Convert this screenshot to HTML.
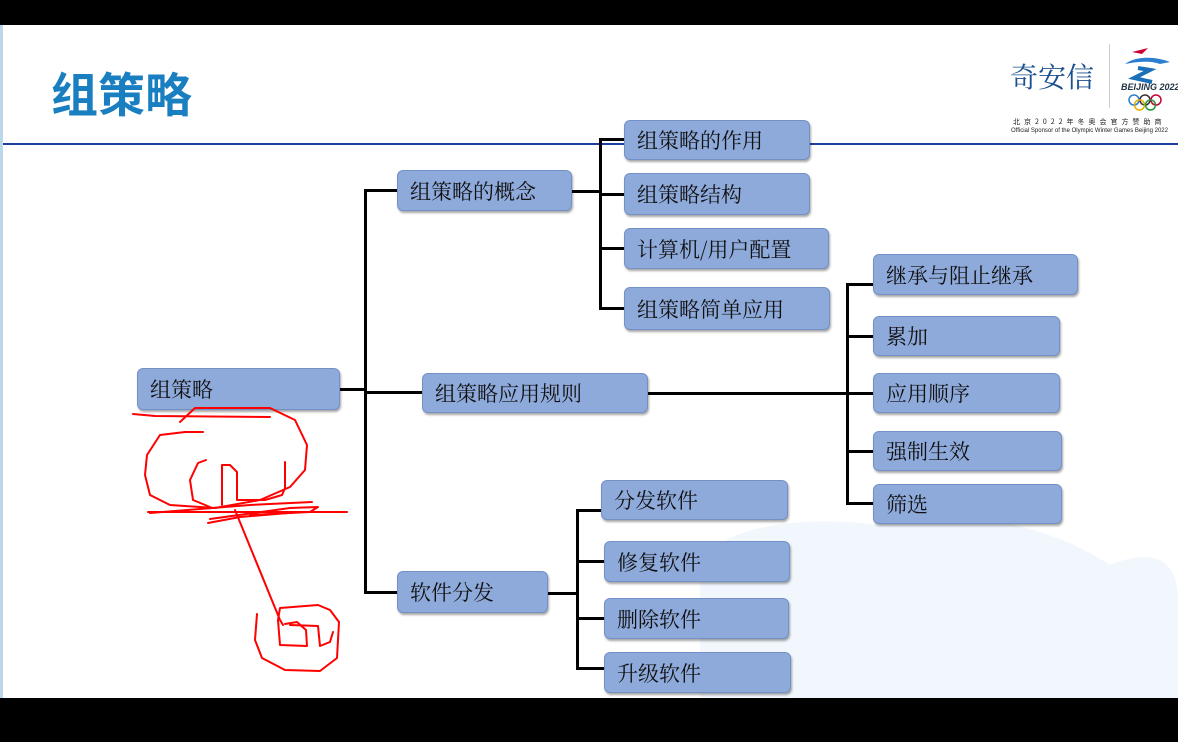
<!DOCTYPE html>
<html><head><meta charset="utf-8"><style>
html,body{margin:0;padding:0;}
body{width:1178px;height:742px;position:relative;overflow:hidden;background:#fff;font-family:"Liberation Sans","Noto Sans CJK SC",sans-serif;}
.bar{position:absolute;left:0;width:1178px;background:#000;}
.b{position:absolute;background:#8eaadb;border:1px solid #7391c6;border-radius:6px;box-shadow:1px 2px 2px rgba(0,0,0,0.35);box-sizing:border-box;font-size:21px;color:#111;padding-left:12px;display:flex;align-items:center;font-family:"Noto Serif CJK SC","Noto Sans CJK SC",serif;}
.l{position:absolute;background:#000;}
</style></head><body>
<div class="bar" style="top:0;height:25px"></div>
<div style="position:absolute;left:0;top:25px;width:3px;height:673px;background:#bcd6ea"></div>
<svg style="position:absolute;left:0;top:0" width="1178" height="742">
<path d="M700,560 C730,525 800,515 880,525 C960,505 1050,525 1110,565 C1160,545 1178,565 1178,600 L1178,698 L700,698 Z" fill="#eef5fc" opacity="0.8"/>
</svg>
<div style="position:absolute;left:51px;top:60px;font-size:47px;font-weight:bold;color:#1a7fc1;font-family:'Noto Sans CJK SC',sans-serif;line-height:64px">组策略</div>
<div style="position:absolute;left:3px;top:143px;width:1175px;height:2px;background:#1c3f9c"></div>
<div style="position:absolute;left:1010px;top:56px;font-size:28px;color:#1b4f8f;font-family:'Noto Serif CJK SC',serif">奇安信</div>
<div style="position:absolute;left:1109px;top:44px;width:1px;height:64px;background:#ccc"></div>
<svg style="position:absolute;left:1120px;top:42px" width="58" height="70">
<path d="M12,10 L28,6 L22,12Z" fill="#c03"/><path d="M5,22 C15,14 35,14 50,20 L40,22 C30,18 15,20 5,22Z" fill="#2a7fd0"/>
<path d="M18,26 L30,28 L14,36 L32,40" stroke="#1a6fb8" stroke-width="4" fill="none"/>
<text x="1" y="48" font-size="9" font-style="italic" font-weight="bold" fill="#234">BEIJING 2022</text>
<circle cx="14" cy="58" r="5" fill="none" stroke="#2a7fd0" stroke-width="1.5"/><circle cx="25" cy="58" r="5" fill="none" stroke="#333" stroke-width="1.5"/><circle cx="36" cy="58" r="5" fill="none" stroke="#c03" stroke-width="1.5"/><circle cx="19.5" cy="63" r="5" fill="none" stroke="#e8b000" stroke-width="1.5"/><circle cx="30.5" cy="63" r="5" fill="none" stroke="#2a9a40" stroke-width="1.5"/>
</svg>
<div style="position:absolute;left:1013px;top:117px;font-size:7px;letter-spacing:4px;color:#222;font-family:'Noto Sans CJK SC',sans-serif;white-space:nowrap">北京2022年冬奥会官方赞助商</div>
<div style="position:absolute;left:1011px;top:128px;font-size:6px;color:#222;white-space:nowrap">Official Sponsor of the Olympic Winter Games Beijing 2022</div>

<div class="l" style="left:340px;top:388px;width:26px;height:3px"></div>
<div class="l" style="left:364px;top:189px;width:3px;height:405px"></div>
<div class="l" style="left:364px;top:189px;width:33px;height:3px"></div>
<div class="l" style="left:364px;top:391px;width:58px;height:3px"></div>
<div class="l" style="left:364px;top:591px;width:33px;height:3px"></div>
<div class="l" style="left:572px;top:190px;width:29px;height:3px"></div>
<div class="l" style="left:599px;top:138px;width:3px;height:172px"></div>
<div class="l" style="left:599px;top:138px;width:25px;height:3px"></div>
<div class="l" style="left:599px;top:193px;width:25px;height:3px"></div>
<div class="l" style="left:599px;top:247px;width:25px;height:3px"></div>
<div class="l" style="left:599px;top:307px;width:25px;height:3px"></div>
<div class="l" style="left:648px;top:392px;width:201px;height:3px"></div>
<div class="l" style="left:846px;top:283px;width:3px;height:222px"></div>
<div class="l" style="left:846px;top:283px;width:27px;height:3px"></div>
<div class="l" style="left:846px;top:335px;width:27px;height:3px"></div>
<div class="l" style="left:846px;top:392px;width:27px;height:3px"></div>
<div class="l" style="left:846px;top:450px;width:27px;height:3px"></div>
<div class="l" style="left:846px;top:502px;width:27px;height:3px"></div>
<div class="l" style="left:548px;top:592px;width:30px;height:3px"></div>
<div class="l" style="left:576px;top:509px;width:3px;height:161px"></div>
<div class="l" style="left:576px;top:509px;width:25px;height:3px"></div>
<div class="l" style="left:576px;top:560px;width:28px;height:3px"></div>
<div class="l" style="left:576px;top:617px;width:28px;height:3px"></div>
<div class="l" style="left:576px;top:667px;width:28px;height:3px"></div>

<div class="b" style="left:137px;top:368px;width:203px;height:42px">组策略</div>
<div class="b" style="left:397px;top:170px;width:175px;height:41px">组策略的概念</div>
<div class="b" style="left:624px;top:120px;width:186px;height:40px">组策略的作用</div>
<div class="b" style="left:624px;top:173px;width:186px;height:42px">组策略结构</div>
<div class="b" style="left:624px;top:228px;width:205px;height:41px">计算机/用户配置</div>
<div class="b" style="left:624px;top:287px;width:206px;height:43px">组策略简单应用</div>
<div class="b" style="left:422px;top:373px;width:226px;height:40px">组策略应用规则</div>
<div class="b" style="left:873px;top:254px;width:205px;height:41px">继承与阻止继承</div>
<div class="b" style="left:873px;top:316px;width:187px;height:40px">累加</div>
<div class="b" style="left:873px;top:373px;width:187px;height:40px">应用顺序</div>
<div class="b" style="left:873px;top:431px;width:189px;height:40px">强制生效</div>
<div class="b" style="left:873px;top:484px;width:189px;height:40px">筛选</div>
<div class="b" style="left:397px;top:571px;width:151px;height:42px">软件分发</div>
<div class="b" style="left:601px;top:480px;width:187px;height:40px">分发软件</div>
<div class="b" style="left:604px;top:541px;width:186px;height:41px">修复软件</div>
<div class="b" style="left:604px;top:598px;width:185px;height:41px">删除软件</div>
<div class="b" style="left:604px;top:652px;width:187px;height:41px">升级软件</div>

<svg style="position:absolute;left:0;top:0" width="1178" height="742" fill="none" stroke="#f00" stroke-width="2" stroke-linejoin="round" stroke-linecap="round">
<path d="M180,422 L195,408 L270,408 L295,420 L307,445 L305,470 L290,487 L260,500 L215,508 L170,505 L150,495 L145,475 L147,455 L160,435 L185,432 L203,432"/>
<path d="M133,414 L155,416 L270,417"/>
<path d="M206,460 L198,463 L190,480 L193,500 L210,507"/>
<path d="M222,505 L222,465 L230,465 L237,472 L237,500 L265,500 L282,495 L285,488 L285,462"/>
<path d="M148,512 L347,512"/>
<path d="M150,513 L250,505 L312,502"/>
<path d="M210,519 L290,508 L318,507 L310,512 L250,515"/>
<path d="M208,523 L240,517 L300,512"/>
<path d="M235,510 L280,620 L283,625"/>
<path d="M257,614 L255,640 L262,658 L285,670 L320,671 L337,658 L339,622 L330,610 L318,605 L280,608 L278,620 L280,645 L307,646 L306,630 L297,622 L285,624"/>
<path d="M290,625 L318,626 L320,646 L330,642 L333,632"/>
</svg>
<div class="bar" style="top:698px;height:44px"></div>
</body></html>
